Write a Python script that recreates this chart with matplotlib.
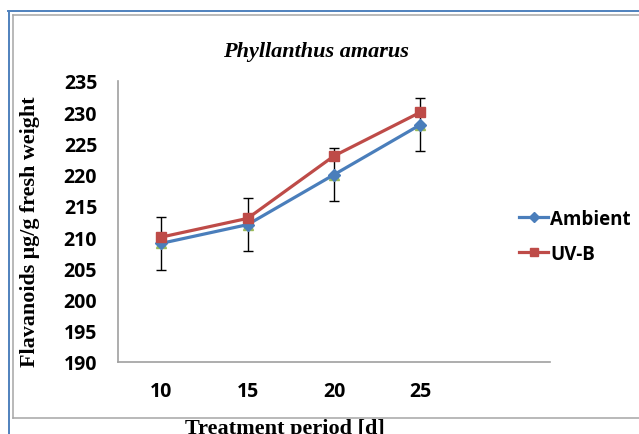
import matplotlib
matplotlib.use("Agg")
import matplotlib.pyplot as plt
from matplotlib.lines import Line2D

# Data
days = ["10", "15", "20", "25"]
ambient = [209, 212, 220, 228]
uvb = [210, 213, 223, 230]
sd_series = [209, 212, 220, 228]
sd_err = [4.2, 4.2, 4.2, 4.2]
y_ticks = [190, 195, 200, 205, 210, 215, 220, 225, 230, 235]

W, H = 639, 435
fig = plt.figure(figsize=(W / 100, H / 100), dpi=100)

def fx(px):
    return px / W

def fy(py):
    return 1 - py / H

# Frames
blue = "#4F81BD"
gray = "#A6A6A6"
fig.add_artist(Line2D([fx(8.8), fx(8.8)], [fy(11.8), 0], color=blue, lw=1.4, transform=fig.transFigure))
fig.add_artist(Line2D([fx(8.1), 1], [fy(11.8), fy(11.8)], color=blue, lw=1.4, transform=fig.transFigure))
fig.add_artist(Line2D([fx(12.6), fx(12.6)], [fy(16), fy(419)], color=gray, lw=1.1, transform=fig.transFigure))
fig.add_artist(Line2D([fx(12.6), 1], [fy(16), fy(16)], color=gray, lw=1.1, transform=fig.transFigure))
fig.add_artist(Line2D([fx(12.6), 1], [fy(419), fy(419)], color=gray, lw=1.1, transform=fig.transFigure))

ax = fig.add_axes([fx(118), fy(363), fx(550) - fx(118), fy(82) - fy(363)])
x = list(range(len(days)))

ax.errorbar(x, sd_series, yerr=sd_err, fmt="^", color="#9BBB59", ms=7,
            ecolor="black", elinewidth=1.0, capsize=3.5, capthick=1.0, zorder=2)
ax.plot(x, ambient, color="#4A7EBB", lw=2.3, marker="D", ms=6.5, zorder=3, label="Ambient")
ax.plot(x, uvb, color="#BE4B48", lw=2.3, marker="s", ms=7.5, zorder=4, label="UV-B")

ax.set_xlim(-0.5, 4.5)
ax.set_ylim(190, 235)
ax.set_xticks(x)
ax.set_xticklabels(days)
ax.set_yticks(y_ticks)
for lab in ax.get_xticklabels() + ax.get_yticklabels():
    lab.set_fontfamily("Open Sans")
    lab.set_fontweight("bold")
    lab.set_fontsize(14)
ax.tick_params(axis="both", length=0)
ax.tick_params(axis="y", pad=15)
ax.tick_params(axis="x", pad=14)
for s in ["top", "right"]:
    ax.spines[s].set_visible(False)
for s in ["left", "bottom"]:
    ax.spines[s].set_color("#A0A0A0")
    ax.spines[s].set_linewidth(1.2)

fig.text(fx(316), fy(52), "Phyllanthus amarus", fontfamily="Liberation Serif",
         fontweight="bold", fontstyle="italic", fontsize=16, ha="center", va="center")
fig.text(fx(30), fy(232), "Flavanoids \u03bcg/g fresh weight", fontfamily="Liberation Serif",
         fontweight="bold", fontsize=15.8, rotation=90, ha="center", va="center")
fig.text(fx(285), fy(429), "Treatment period [d]", fontfamily="Liberation Serif",
         fontweight="bold", fontsize=16, ha="center", va="center")

handles, labels = ax.get_legend_handles_labels()
leg = fig.legend(handles, labels, loc="center left", bbox_to_anchor=(fx(519), fy(237.5)),
                 frameon=False, handlelength=1.55, handletextpad=0.12, labelspacing=0.8,
                 borderpad=0, borderaxespad=0, markerscale=0.8,
                 prop={"family": "Open Sans", "weight": "bold", "size": 13.5})

fig.savefig("out.png", dpi=100)
